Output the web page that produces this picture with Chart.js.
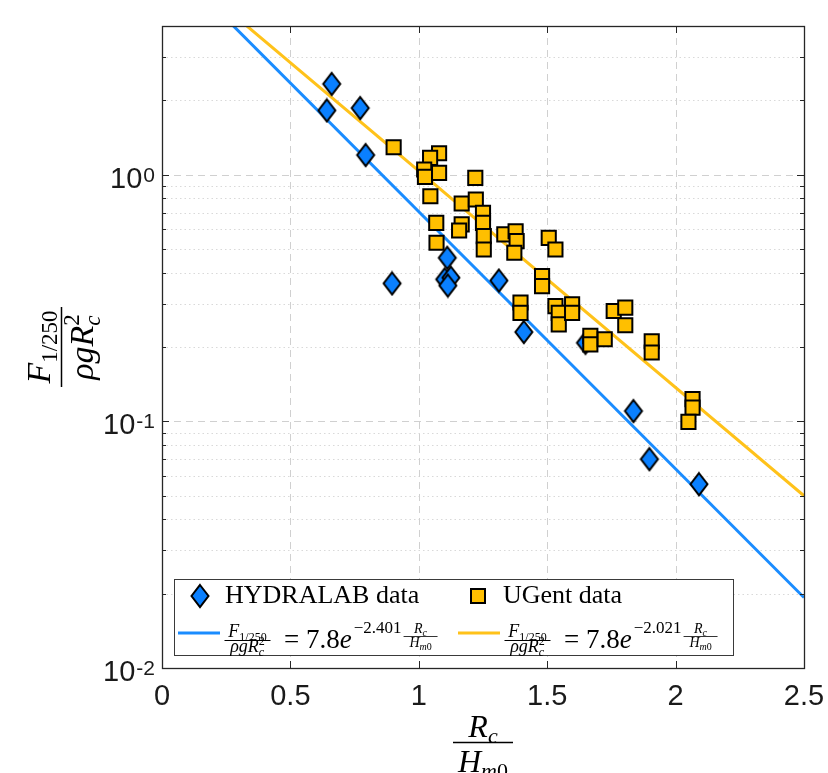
<!DOCTYPE html>
<html>
<head>
<meta charset="utf-8">
<script src="https://cdn.jsdelivr.net/npm/chart.js@4.4.1/dist/chart.umd.min.js"></script>
<style>
  html, body { margin: 0; padding: 0; background: #fff; }
  #caja { width: 828px; height: 773px; position: relative; }
</style>
</head>
<body>
<div id="caja"><canvas id="grafico"></canvas></div>
<script>
'use strict'

// datos (Rc/Hm0 , F/(rho g Rc^2))
const hydralabX = [0.661, 0.642, 0.772, 0.793, 0.896, 1.111, 1.101, 1.125, 1.113, 1.312, 1.409, 1.649, 1.836, 1.898, 2.091]
const hydralabY = [2.33, 1.82, 1.86, 1.20, 0.362, 0.460, 0.376, 0.382, 0.355, 0.372, 0.230, 0.208, 0.110, 0.0702, 0.0556]

const ugentX = [0.902, 1.079, 1.044, 1.021, 1.024, 1.079, 1.220, 1.045, 1.167, 1.222, 1.250, 1.068, 1.167, 1.157, 1.250,
  1.253, 1.253, 1.069, 1.333, 1.377, 1.381, 1.372, 1.506, 1.532, 1.480, 1.480, 1.396, 1.396, 1.532, 1.545,
  1.545, 1.597, 1.597, 1.759, 1.804, 1.804, 1.668, 1.668, 1.724, 1.907, 1.907, 2.066, 2.066, 2.050]
const ugentY = [1.29, 1.22, 1.168, 1.048, 0.979, 1.016, 0.970, 0.817, 0.763, 0.792, 0.700, 0.637, 0.628, 0.593, 0.637,
  0.563, 0.497, 0.529, 0.572, 0.589, 0.537, 0.482, 0.554, 0.497, 0.388, 0.353, 0.303, 0.275, 0.293, 0.275,
  0.247, 0.298, 0.275, 0.280, 0.289, 0.245, 0.222, 0.205, 0.215, 0.211, 0.190, 0.123, 0.1136, 0.0994]

const fitX = [0, 2.5]
const hydralabFit = [7.8, 0.0193]
const ugentFit = [7.8, 0.0499]

const xTicks = [0, 0.5, 1, 1.5, 2, 2.5]
const xTickLabels = ['0', '0.5', '1', '1.5', '2', '2.5']
const yTicks = [0.01, 0.1, 1]
const yTickExp = ['-2', '-1', '0']
const leyenda = ['HYDRALAB data', 'UGent data']
const exponentes = ['\u22122.401', '\u22122.021']

const azul = '#0a80ff'
const amarillo = '#ffbf00'
const linAzul = '#1a8cff'
const linAmarilla = '#ffc21a'

const SERIF = '"Liberation Serif", "DejaVu Serif", serif'
const SANS = '"Liberation Sans", Arial, sans-serif'

const pares = (xs, ys) => xs.map((v, i) => ({x: v, y: ys[i]}))

// rombo estilo matlab (mas alto que ancho)
const rombo = document.createElement('canvas')
rombo.width = 22
rombo.height = 26
const rc = rombo.getContext('2d')
rc.beginPath()
rc.moveTo(11, 2); rc.lineTo(19.5, 13); rc.lineTo(11, 24); rc.lineTo(2.5, 13)
rc.closePath()
rc.fillStyle = azul
rc.fill()
rc.lineWidth = 2
rc.strokeStyle = '#000'
rc.stroke()

// texto en trozos (sub/superindices)
const anchoTrozos = (ctx, trozos) => {
  let w = 0, ult = 0
  trozos.forEach(t => {
    ctx.font = t.f
    const a = ctx.measureText(t.t).width
    if (t.pila) { w = w - ult + Math.max(ult, a); ult = Math.max(ult, a) }
    else { w += a; ult = a }
  })
  return w
}
const pintaTrozos = (ctx, trozos, x, y) => {
  let px = x, ini = x, ult = 0
  trozos.forEach(t => {
    ctx.font = t.f
    const a = ctx.measureText(t.t).width
    if (t.pila) {
      ctx.fillText(t.t, ini, y + (t.dy || 0))
      px = ini + Math.max(ult, a)
    } else {
      ini = px
      ctx.fillText(t.t, px, y + (t.dy || 0))
      px += a
      ult = a
    }
  })
  return px
}
const fraccion = (ctx, num, den, cx, yNum, yBar, yDen, largo, grosor) => {
  ctx.textAlign = 'left'
  ctx.textBaseline = 'alphabetic'
  pintaTrozos(ctx, num, cx - anchoTrozos(ctx, num) / 2, yNum)
  pintaTrozos(ctx, den, cx - anchoTrozos(ctx, den) / 2, yDen)
  ctx.lineWidth = grosor
  ctx.beginPath()
  ctx.moveTo(cx - largo / 2, yBar)
  ctx.lineTo(cx + largo / 2, yBar)
  ctx.stroke()
}

const fuerzaNum = s => [
  {t: 'F', f: 'italic ' + s + 'px ' + SERIF},
  {t: '1/250', f: Math.round(s * 0.68) + 'px ' + SERIF, dy: Math.round(s * 0.22)}
]
const fuerzaDen = s => [
  {t: '\u03C1gR', f: 'italic ' + s + 'px ' + SERIF},
  {t: 'c', f: 'italic ' + Math.round(s * 0.68) + 'px ' + SERIF, dy: Math.round(s * 0.22)},
  {t: '2', f: Math.round(s * 0.68) + 'px ' + SERIF, dy: -Math.round(s * 0.4), pila: true}
]
const rcNum = s => [
  {t: 'R', f: 'italic ' + s + 'px ' + SERIF},
  {t: 'c', f: 'italic ' + Math.round(s * 0.68) + 'px ' + SERIF, dy: Math.round(s * 0.2)}
]
const hmDen = s => [
  {t: 'H', f: 'italic ' + s + 'px ' + SERIF},
  {t: 'm', f: 'italic ' + Math.round(s * 0.68) + 'px ' + SERIF, dy: Math.round(s * 0.2)},
  {t: '0', f: Math.round(s * 0.68) + 'px ' + SERIF, dy: Math.round(s * 0.2)}
]

const linea = (ctx, x1, y1, x2, y2) => {
  ctx.beginPath(); ctx.moveTo(x1, y1); ctx.lineTo(x2, y2); ctx.stroke()
}

const ejes = {
  id: 'ejes',
  beforeDatasetsDraw(chart) {
    const {ctx, chartArea: a, scales: {x, y}} = chart
    ctx.save()
    ctx.lineWidth = 1
    // rejilla menor punteada
    ctx.strokeStyle = '#d9d9d9'
    ctx.setLineDash([1.5, 3])
    for (let d = -2; d <= 0; d++) {
      for (let m = 2; m <= 9; m++) {
        const v = m * Math.pow(10, d)
        if (v >= 4) continue
        const py = Math.round(y.getPixelForValue(v)) + 0.5
        linea(ctx, a.left, py, a.right, py)
      }
    }
    // rejilla mayor discontinua
    ctx.strokeStyle = '#d0d0d0'
    ctx.setLineDash([7, 5])
    xTicks.slice(1, -1).forEach(v => {
      const px = Math.round(x.getPixelForValue(v)) + 0.5
      linea(ctx, px, a.top, px, a.bottom)
    })
    yTicks.slice(1).forEach(v => {
      const py = Math.round(y.getPixelForValue(v)) + 0.5
      linea(ctx, a.left, py, a.right, py)
    })
    ctx.restore()
  },
  afterDatasetsDraw(chart) {
    const {ctx, chartArea: a, scales: {x, y}} = chart
    ctx.save()
    ctx.setLineDash([])
    ctx.strokeStyle = '#262626'
    ctx.fillStyle = '#262626'
    ctx.lineWidth = 1
    // marcas hacia dentro
    xTicks.forEach(v => {
      const px = Math.round(x.getPixelForValue(v)) + 0.5
      linea(ctx, px, a.bottom, px, a.bottom - 7)
      linea(ctx, px, a.top, px, a.top + 7)
    })
    for (let d = -2; d <= 0; d++) {
      for (let m = 1; m <= 9; m++) {
        const v = m * Math.pow(10, d)
        if (v >= 4) continue
        const py = Math.round(y.getPixelForValue(v)) + 0.5
        const l = m === 1 ? 7 : 4
        linea(ctx, a.left, py, a.left + l, py)
        linea(ctx, a.right, py, a.right - l, py)
      }
    }
    // caja
    ctx.lineWidth = 1.3
    ctx.strokeRect(Math.round(a.left) + 0.5, Math.round(a.top) + 0.5, Math.round(a.right - a.left), Math.round(a.bottom - a.top))

    // etiquetas eje x
    ctx.fillStyle = '#1a1a1a'
    ctx.font = '29px ' + SANS
    ctx.textAlign = 'center'
    ctx.textBaseline = 'middle'
    xTicks.forEach((v, i) => ctx.fillText(xTickLabels[i], x.getPixelForValue(v), 697))

    // etiquetas eje y 10^n
    ctx.textAlign = 'right'
    ctx.textBaseline = 'alphabetic'
    yTicks.forEach((v, i) => {
      const py = y.getPixelForValue(v)
      ctx.font = '21px ' + SANS
      const ws = ctx.measureText(yTickExp[i]).width
      ctx.fillText(yTickExp[i], 155, py + 7)
      ctx.font = '29px ' + SANS
      ctx.fillText('10', 155 - ws - 1, py + 13)
    })

    // titulos de ejes
    ctx.fillStyle = '#000'
    ctx.strokeStyle = '#000'
    fraccion(ctx, rcNum(32), hmDen(32), 483, 737, 742.5, 772, 60, 1.5)
    ctx.save()
    ctx.translate(61, 347)
    ctx.rotate(-Math.PI / 2)
    fraccion(ctx, fuerzaNum(34), fuerzaDen(34), 0, -11, 0.5, 32, 80, 1.5)
    ctx.restore()

    // leyenda
    ctx.fillStyle = '#fff'
    ctx.fillRect(174.5, 579.5, 559, 76)
    ctx.strokeStyle = '#3a3a3a'
    ctx.lineWidth = 1
    ctx.strokeRect(174.5, 579.5, 559, 76)

    ctx.drawImage(rombo, 200 - rombo.width / 2, 596 - rombo.height / 2)
    ctx.fillStyle = amarillo
    ctx.fillRect(471, 589, 14, 14)
    ctx.strokeStyle = '#000'
    ctx.lineWidth = 2
    ctx.strokeRect(471, 589, 14, 14)

    ctx.fillStyle = '#000'
    ctx.textAlign = 'left'
    ctx.font = '26px ' + SERIF
    ctx.fillText(leyenda[0], 225, 603)
    ctx.fillText(leyenda[1], 503, 603)

    ;[linAzul, linAmarilla].forEach((col, k) => {
      const o = k * 280
      ctx.strokeStyle = col
      ctx.lineWidth = 3
      linea(ctx, 178 + o, 633, 220 + o, 633)
      ctx.strokeStyle = '#000'
      ctx.fillStyle = '#000'
      fraccion(ctx, fuerzaNum(18), fuerzaDen(18), 247.5 + o, 636.5, 640.5, 652, 46, 1)
      ctx.font = '27px ' + SERIF
      ctx.fillText('= 7.8', 284 + o, 648)
      const w1 = ctx.measureText('= 7.8').width
      ctx.font = 'italic 27px ' + SERIF
      ctx.fillText('e', 284 + o + w1, 648)
      const w2 = ctx.measureText('e').width
      ctx.font = '17px ' + SERIF
      ctx.fillText(exponentes[k], 286 + o + w1 + w2, 633)
      const w3 = ctx.measureText(exponentes[k]).width
      fraccion(ctx, rcNum(14), hmDen(14), 286 + o + w1 + w2 + w3 + 19, 633, 636.5, 647, 34, 0.8)
    })
    ctx.restore()
  }
}

const data = {
  datasets: [{
    label: leyenda[1],
    data: pares(ugentX, ugentY),
    pointStyle: 'rect',
    pointRadius: 10,
    pointBackgroundColor: amarillo,
    pointBorderColor: '#000',
    pointBorderWidth: 2,
    order: 1
  },
  {
    label: leyenda[0],
    data: pares(hydralabX, hydralabY),
    pointStyle: rombo,
    pointRadius: 10,
    order: 2
  },
  {
    label: 'ajuste HYDRALAB',
    data: pares(fitX, hydralabFit),
    showLine: true,
    pointRadius: 0,
    borderColor: linAzul,
    borderWidth: 3,
    order: 3
  },
  {
    label: 'ajuste UGent',
    data: pares(fitX, ugentFit),
    showLine: true,
    pointRadius: 0,
    borderColor: linAmarilla,
    borderWidth: 3,
    order: 3
  }]
}

const config = {
  type: 'scatter',
  data: data,
  options: {
    responsive: true,
    maintainAspectRatio: false,
    animation: false,
    layout: {padding: {left: 162, right: 24, top: 26, bottom: 105}},
    plugins: {legend: {display: false}, tooltip: {enabled: false}},
    scales: {
      x: {type: 'linear', min: 0, max: 2.5, display: false},
      y: {type: 'logarithmic', min: 0.01, max: 4, display: false}
    }
  },
  plugins: [ejes]
}

let grafico = new Chart(document.querySelector('#grafico'), config)
</script>
</body>
</html>
